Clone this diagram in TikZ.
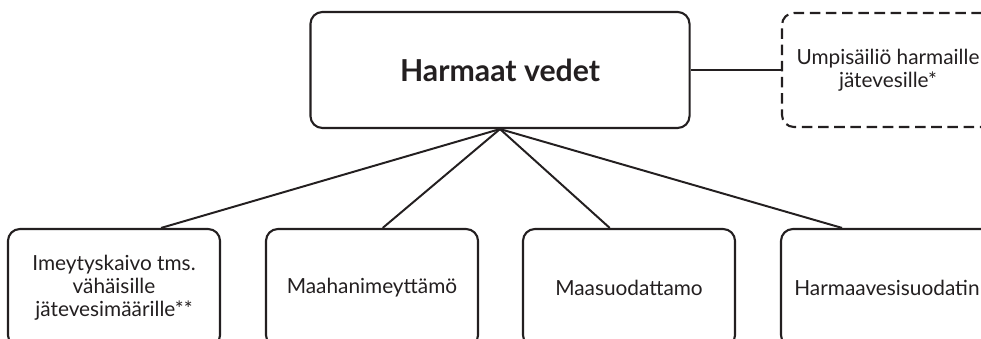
\documentclass[tikz,border=0pt]{standalone}
\usepackage{fontspec}
\setmainfont{Lato}
\usetikzlibrary{calc}
\definecolor{tumma}{HTML}{231F20}

\begin{document}
\begin{tikzpicture}[x=0.025cm, y=-0.025cm, line width=1.5pt, draw=tumma,
    laatikko/.style={draw=tumma, rounded corners=0.3cm, minimum width=5.3cm,
        minimum height=2.95cm, align=center, text=tumma,
        font=\fontsize{14.8}{16.3}\selectfont},
    yhteys/.style={draw=tumma, line width=1.4pt}]
        % Rajaus
        \useasboundingbox (0,0) rectangle (981,339);
        \clip (0,0) rectangle (981,339);

        % Pääotsikko
        \node[laatikko, minimum width=9.475cm, minimum height=2.9cm,
            font=\fontsize{21.5}{24}\selectfont\bfseries] (paa) at (500,70) {Harmaat vedet};

        % Umpisäiliö katkoviivalla
        \node[laatikko, minimum height=2.85cm, dash pattern=on 7.5pt off 4pt] (umpi) at (888,70)
            {Umpisäiliö harmaille\\jätevesille*};
        \draw[yhteys] (paa.east) -- (umpi.west);

        % Alemmat laatikot
        \node[laatikko] (kaivo) at (114,288) {Imeytyskaivo tms.\\vähäisille\\jätevesimäärille**};
        \node[laatikko] (imeytys) at (372,288) {Maahanimeyttämö};
        \node[laatikko] (suodatus) at (629,288) {Maasuodattamo};
        \node[laatikko] (harmaa) at (887,288) {Harmaavesisuodatin};

        % Viivat pääotsikosta alas
        \draw[yhteys] (paa.south) -- ($(kaivo.north west)!0.72!(kaivo.north east)$);
        \draw[yhteys] (paa.south) -- ($(imeytys.north west)!0.55!(imeytys.north east)$);
        \draw[yhteys] (paa.south) -- ($(suodatus.north west)!0.41!(suodatus.north east)$);
        \draw[yhteys] (paa.south) -- ($(harmaa.north west)!0.29!(harmaa.north east)$);
    \end{tikzpicture}
\end{document}
